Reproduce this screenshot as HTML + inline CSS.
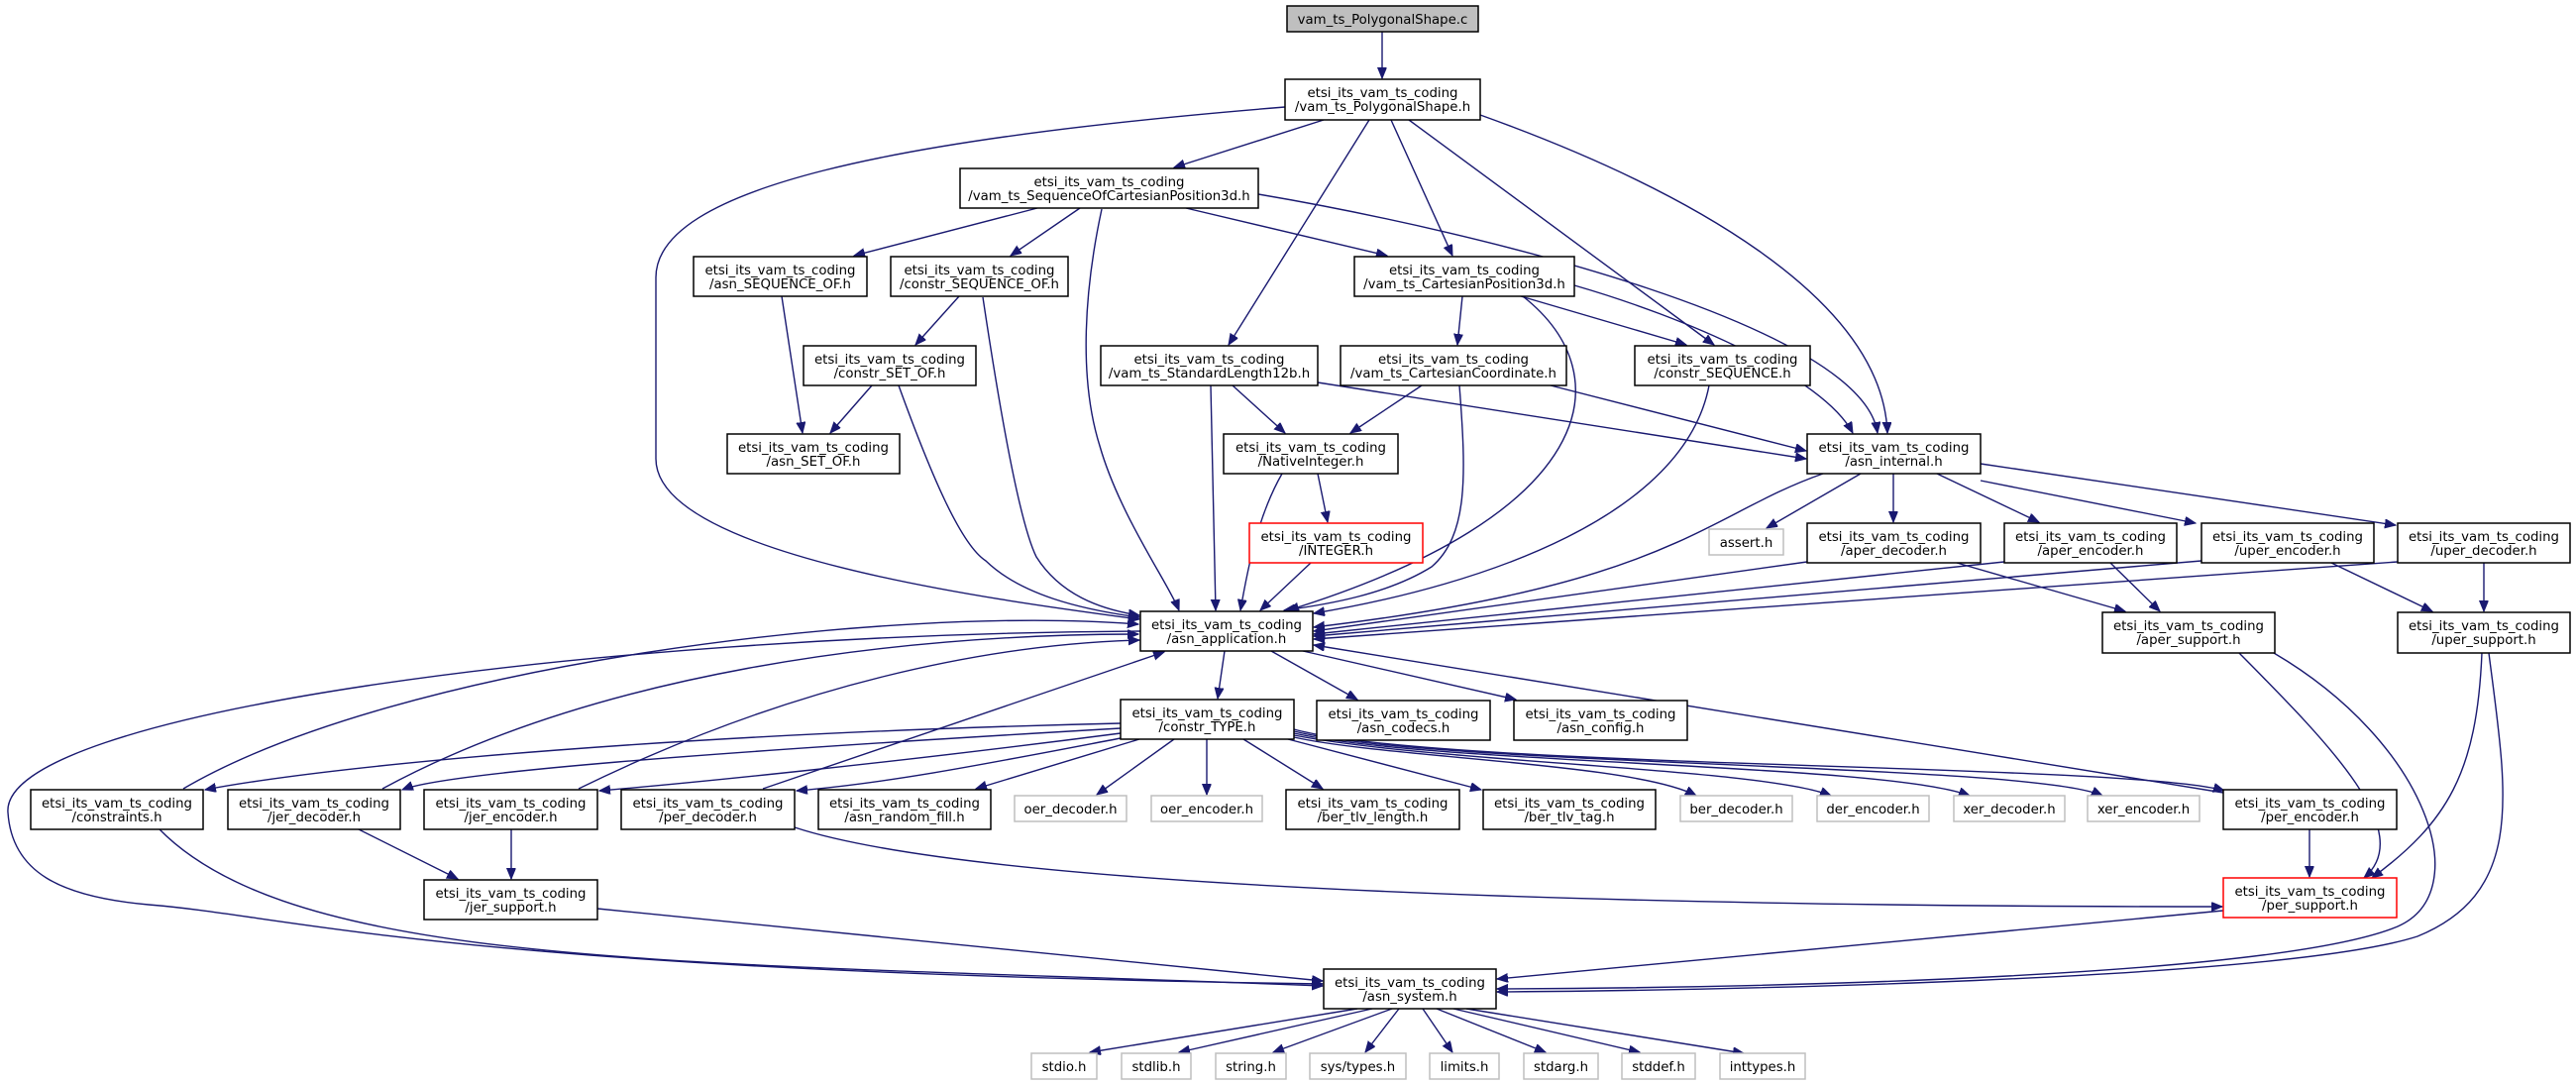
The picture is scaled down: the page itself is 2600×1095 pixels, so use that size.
<!DOCTYPE html>
<html><head><meta charset="utf-8"><style>
html,body{margin:0;padding:0;background:#fff;}
svg{display:block;}
text{font-family:"DejaVu Sans","Liberation Sans",sans-serif;font-size:13.3px;fill:#000;text-anchor:middle;}
.n{fill:#fff;stroke:#000;stroke-width:1.5;}
.g{fill:#fff;stroke:#bfbfbf;stroke-width:1.5;}
.r{fill:#fff;stroke:#ff0000;stroke-width:1.5;}
.e{fill:none;stroke:#191970;stroke-width:1.4;marker-end:url(#a);}
</style></head><body>
<svg width="2600" height="1095" viewBox="0 0 2600 1095" xmlns="http://www.w3.org/2000/svg">
<defs><marker id="a" markerUnits="userSpaceOnUse" markerWidth="12" markerHeight="10" refX="11" refY="4.5" orient="auto"><path d="M0,0 L11,4.5 L0,9 z" fill="#191970" stroke="#191970"/></marker></defs>
<g>
<path class="e" d="M1395,32 L1395,79"/>
<path class="e" d="M1336,121 L1185,169"/>
<path class="e" d="M1382,121 L1240,348"/>
<path class="e" d="M1404,121 L1466,258"/>
<path class="e" d="M1422,121 L1730,348"/>
<path class="e" d="M1494,116 C1700,190 1900,300 1905,437"/>
<path class="e" d="M1297,108 C900,140 662,190 662,280 L662,463 C662,560 1000,605 1150,625"/>
<path class="e" d="M1047,210 L862,258"/>
<path class="e" d="M1090,210 L1020,258"/>
<path class="e" d="M1197,210 L1400,258"/>
<path class="e" d="M1270,196 C1500,235 1880,330 1895,437"/>
<path class="e" d="M1112,211 C1095,290 1088,380 1110,450 C1130,520 1180,590 1190,616"/>
<path class="e" d="M789,299 L810,437"/>
<path class="e" d="M968,299 L924,348"/>
<path class="e" d="M992,300 C1010,420 1030,530 1046,562 C1070,600 1110,615 1150,621"/>
<path class="e" d="M880,389 L838,437"/>
<path class="e" d="M907,389 C940,480 970,550 995,566 C1030,600 1090,615 1150,623"/>
<path class="e" d="M1476,299 L1471,348"/>
<path class="e" d="M1535,299 L1702,348"/>
<path class="e" d="M1589,288 C1700,320 1840,380 1870,437"/>
<path class="e" d="M1537,299 C1640,380 1610,520 1300,616"/>
<path class="e" d="M1244,389 L1297,437"/>
<path class="e" d="M1330,386 L1823,463"/>
<path class="e" d="M1222,389 L1227,616"/>
<path class="e" d="M1435,389 L1363,437"/>
<path class="e" d="M1565,389 L1823,455"/>
<path class="e" d="M1473,389 C1480,480 1482,540 1445,572 C1400,600 1340,610 1296,616"/>
<path class="e" d="M1725,389 C1700,520 1500,590 1326,619"/>
<path class="e" d="M1330,478 L1340,527"/>
<path class="e" d="M1294,478 C1270,520 1260,570 1252,616"/>
<path class="e" d="M1323,568 L1272,616"/>
<path class="e" d="M1878,478 L1783,533"/>
<path class="e" d="M1911,478 L1911,527"/>
<path class="e" d="M1955,478 L2058,527"/>
<path class="e" d="M1999,485 L2216,528"/>
<path class="e" d="M1999,468 L2418,530"/>
<path class="e" d="M1840,478 C1720,520 1690,590 1326,633"/>
<path class="e" d="M1824,567 L1326,637"/>
<path class="e" d="M1975,568 L2145,617"/>
<path class="e" d="M2023,567 L1326,640"/>
<path class="e" d="M2130,568 L2180,617"/>
<path class="e" d="M2222,566 L1326,642"/>
<path class="e" d="M2353,568 L2455,617"/>
<path class="e" d="M2420,567 L1326,645"/>
<path class="e" d="M2507,568 L2507,617"/>
<path class="e" d="M2260,659 C2350,750 2440,840 2386,886"/>
<path class="e" d="M2295,659 C2450,750 2500,900 2420,935 C2300,985 1800,997 1511,998"/>
<path class="e" d="M2505,659 C2500,780 2470,830 2394,886"/>
<path class="e" d="M2512,659 C2530,800 2550,900 2440,945 C2300,990 1700,1000 1511,1001"/>
<path class="e" d="M1236,657 L1229,705"/>
<path class="e" d="M1283,657 L1370,706"/>
<path class="e" d="M1315,657 L1530,706"/>
<path class="e" d="M1151,637 C600,640 0,720 8,820 C12,880 60,905 150,913 C300,925 450,980 1335,993"/>
<path class="e" d="M1131,730 C700,740 350,770 207,797"/>
<path class="e" d="M1131,735 C700,760 450,780 406,797"/>
<path class="e" d="M1131,740 C900,770 700,790 605,798"/>
<path class="e" d="M1131,745 C1000,770 900,790 804,798"/>
<path class="e" d="M1150,746 L985,796"/>
<path class="e" d="M1185,746 L1107,802"/>
<path class="e" d="M1218,746 L1218,802"/>
<path class="e" d="M1255,746 L1335,796"/>
<path class="e" d="M1300,746 L1495,797"/>
<path class="e" d="M1306,744 C1400,765 1650,770 1712,803"/>
<path class="e" d="M1306,742 C1450,770 1780,775 1848,803"/>
<path class="e" d="M1306,740 C1450,772 1900,770 1988,803"/>
<path class="e" d="M1306,738 C1450,774 2050,770 2122,803"/>
<path class="e" d="M1306,736 C1450,776 2150,770 2245,798"/>
<path class="e" d="M185,796 C400,670 900,610 1149,630"/>
<path class="e" d="M160,836 C300,980 700,970 1335,995"/>
<path class="e" d="M386,796 C600,680 900,640 1149,640"/>
<path class="e" d="M360,836 L462,887"/>
<path class="e" d="M584,796 C800,690 1000,650 1150,646"/>
<path class="e" d="M516,836 L516,887"/>
<path class="e" d="M770,796 L1175,658"/>
<path class="e" d="M802,835 C1000,900 1700,915 2243,915"/>
<path class="e" d="M2244,800 L1326,651"/>
<path class="e" d="M2331,836 L2331,885"/>
<path class="e" d="M603,917 L1335,990"/>
<path class="e" d="M2244,919 L1511,988"/>
<path class="e" d="M1370,1018 L1100,1062"/>
<path class="e" d="M1385,1018 L1190,1062"/>
<path class="e" d="M1405,1018 L1285,1062"/>
<path class="e" d="M1412,1018 L1378,1062"/>
<path class="e" d="M1436,1018 L1466,1062"/>
<path class="e" d="M1450,1018 L1560,1062"/>
<path class="e" d="M1467,1018 L1655,1062"/>
<path class="e" d="M1480,1018 L1760,1063"/>
</g>
<g>
<rect x="1299" y="6" width="193" height="26" fill="#bfbfbf" stroke="#000" stroke-width="1.5"/><text x="1395.5" y="24">vam_ts_PolygonalShape.c</text>

<rect class="n" x="1297" y="80" width="197" height="41"/><text x="1395.5" y="98">etsi_its_vam_ts_coding</text><text x="1395.5" y="112">/vam_ts_PolygonalShape.h</text>

<rect class="n" x="969" y="170" width="301" height="40"/><text x="1119.5" y="188">etsi_its_vam_ts_coding</text><text x="1119.5" y="202">/vam_ts_SequenceOfCartesianPosition3d.h</text>

<rect class="n" x="700" y="259" width="175" height="40"/><text x="787.5" y="277">etsi_its_vam_ts_coding</text><text x="787.5" y="291">/asn_SEQUENCE_OF.h</text>
<rect class="n" x="899" y="259" width="179" height="40"/><text x="988.5" y="277">etsi_its_vam_ts_coding</text><text x="988.5" y="291">/constr_SEQUENCE_OF.h</text>
<rect class="n" x="1367" y="259" width="222" height="40"/><text x="1478" y="277">etsi_its_vam_ts_coding</text><text x="1478" y="291">/vam_ts_CartesianPosition3d.h</text>

<rect class="n" x="811" y="349" width="174" height="40"/><text x="898" y="367">etsi_its_vam_ts_coding</text><text x="898" y="381">/constr_SET_OF.h</text>
<rect class="n" x="1111" y="349" width="219" height="40"/><text x="1220.5" y="367">etsi_its_vam_ts_coding</text><text x="1220.5" y="381">/vam_ts_StandardLength12b.h</text>
<rect class="n" x="1353" y="349" width="228" height="40"/><text x="1467" y="367">etsi_its_vam_ts_coding</text><text x="1467" y="381">/vam_ts_CartesianCoordinate.h</text>
<rect class="n" x="1650" y="349" width="177" height="40"/><text x="1738.5" y="367">etsi_its_vam_ts_coding</text><text x="1738.5" y="381">/constr_SEQUENCE.h</text>

<rect class="n" x="734" y="438" width="174" height="40"/><text x="821" y="456">etsi_its_vam_ts_coding</text><text x="821" y="470">/asn_SET_OF.h</text>
<rect class="n" x="1235" y="438" width="176" height="40"/><text x="1323" y="456">etsi_its_vam_ts_coding</text><text x="1323" y="470">/NativeInteger.h</text>
<rect class="n" x="1824" y="438" width="175" height="40"/><text x="1911.5" y="456">etsi_its_vam_ts_coding</text><text x="1911.5" y="470">/asn_internal.h</text>

<rect class="r" x="1261" y="528" width="175" height="40"/><text x="1348.5" y="546">etsi_its_vam_ts_coding</text><text x="1348.5" y="560">/INTEGER.h</text>
<rect class="g" x="1725" y="534" width="75" height="26"/><text x="1762.5" y="552">assert.h</text>
<rect class="n" x="1824" y="528" width="175" height="40"/><text x="1911.5" y="546">etsi_its_vam_ts_coding</text><text x="1911.5" y="560">/aper_decoder.h</text>
<rect class="n" x="2023" y="528" width="174" height="40"/><text x="2110" y="546">etsi_its_vam_ts_coding</text><text x="2110" y="560">/aper_encoder.h</text>
<rect class="n" x="2222" y="528" width="174" height="40"/><text x="2309" y="546">etsi_its_vam_ts_coding</text><text x="2309" y="560">/uper_encoder.h</text>
<rect class="n" x="2420" y="528" width="174" height="40"/><text x="2507" y="546">etsi_its_vam_ts_coding</text><text x="2507" y="560">/uper_decoder.h</text>

<rect class="n" x="1151" y="617" width="174" height="40"/><text x="1238" y="635">etsi_its_vam_ts_coding</text><text x="1238" y="649">/asn_application.h</text>
<rect class="n" x="2122" y="618" width="174" height="41"/><text x="2209" y="636">etsi_its_vam_ts_coding</text><text x="2209" y="650">/aper_support.h</text>
<rect class="n" x="2420" y="618" width="174" height="41"/><text x="2507" y="636">etsi_its_vam_ts_coding</text><text x="2507" y="650">/uper_support.h</text>

<rect class="n" x="1131" y="706" width="175" height="40"/><text x="1218.5" y="724">etsi_its_vam_ts_coding</text><text x="1218.5" y="738">/constr_TYPE.h</text>
<rect class="n" x="1329" y="707" width="175" height="40"/><text x="1416.5" y="725">etsi_its_vam_ts_coding</text><text x="1416.5" y="739">/asn_codecs.h</text>
<rect class="n" x="1528" y="707" width="175" height="40"/><text x="1615.5" y="725">etsi_its_vam_ts_coding</text><text x="1615.5" y="739">/asn_config.h</text>

<rect class="n" x="31" y="797" width="174" height="40"/><text x="118" y="815">etsi_its_vam_ts_coding</text><text x="118" y="829">/constraints.h</text>
<rect class="n" x="230" y="797" width="174" height="40"/><text x="317" y="815">etsi_its_vam_ts_coding</text><text x="317" y="829">/jer_decoder.h</text>
<rect class="n" x="428" y="797" width="175" height="40"/><text x="515.5" y="815">etsi_its_vam_ts_coding</text><text x="515.5" y="829">/jer_encoder.h</text>
<rect class="n" x="627" y="797" width="175" height="40"/><text x="714.5" y="815">etsi_its_vam_ts_coding</text><text x="714.5" y="829">/per_decoder.h</text>
<rect class="n" x="826" y="797" width="174" height="40"/><text x="913" y="815">etsi_its_vam_ts_coding</text><text x="913" y="829">/asn_random_fill.h</text>
<rect class="g" x="1024" y="803" width="113" height="26"/><text x="1080.5" y="821">oer_decoder.h</text>
<rect class="g" x="1162" y="803" width="112" height="26"/><text x="1218" y="821">oer_encoder.h</text>
<rect class="n" x="1298" y="797" width="175" height="40"/><text x="1385.5" y="815">etsi_its_vam_ts_coding</text><text x="1385.5" y="829">/ber_tlv_length.h</text>
<rect class="n" x="1497" y="797" width="174" height="40"/><text x="1584" y="815">etsi_its_vam_ts_coding</text><text x="1584" y="829">/ber_tlv_tag.h</text>
<rect class="g" x="1696" y="803" width="113" height="26"/><text x="1752.5" y="821">ber_decoder.h</text>
<rect class="g" x="1834" y="803" width="113" height="26"/><text x="1890.5" y="821">der_encoder.h</text>
<rect class="g" x="1972" y="803" width="112" height="26"/><text x="2028" y="821">xer_decoder.h</text>
<rect class="g" x="2107" y="803" width="113" height="26"/><text x="2163.5" y="821">xer_encoder.h</text>
<rect class="n" x="2244" y="797" width="175" height="40"/><text x="2331.5" y="815">etsi_its_vam_ts_coding</text><text x="2331.5" y="829">/per_encoder.h</text>

<rect class="n" x="428" y="888" width="175" height="40"/><text x="515.5" y="906">etsi_its_vam_ts_coding</text><text x="515.5" y="920">/jer_support.h</text>
<rect class="r" x="2244" y="886" width="175" height="40"/><text x="2331.5" y="904">etsi_its_vam_ts_coding</text><text x="2331.5" y="918">/per_support.h</text>

<rect class="n" x="1336" y="978" width="174" height="40"/><text x="1423" y="996">etsi_its_vam_ts_coding</text><text x="1423" y="1010">/asn_system.h</text>

<rect class="g" x="1041" y="1063" width="66" height="26"/><text x="1074" y="1081">stdio.h</text>
<rect class="g" x="1132" y="1063" width="70" height="26"/><text x="1167" y="1081">stdlib.h</text>
<rect class="g" x="1227" y="1063" width="71" height="26"/><text x="1262.5" y="1081">string.h</text>
<rect class="g" x="1322" y="1063" width="97" height="26"/><text x="1370.5" y="1081">sys/types.h</text>
<rect class="g" x="1443" y="1063" width="70" height="26"/><text x="1478" y="1081">limits.h</text>
<rect class="g" x="1538" y="1063" width="75" height="26"/><text x="1575.5" y="1081">stdarg.h</text>
<rect class="g" x="1637" y="1063" width="74" height="26"/><text x="1674" y="1081">stddef.h</text>
<rect class="g" x="1736" y="1063" width="86" height="26"/><text x="1779" y="1081">inttypes.h</text>
</g>
</svg>
</body></html>
